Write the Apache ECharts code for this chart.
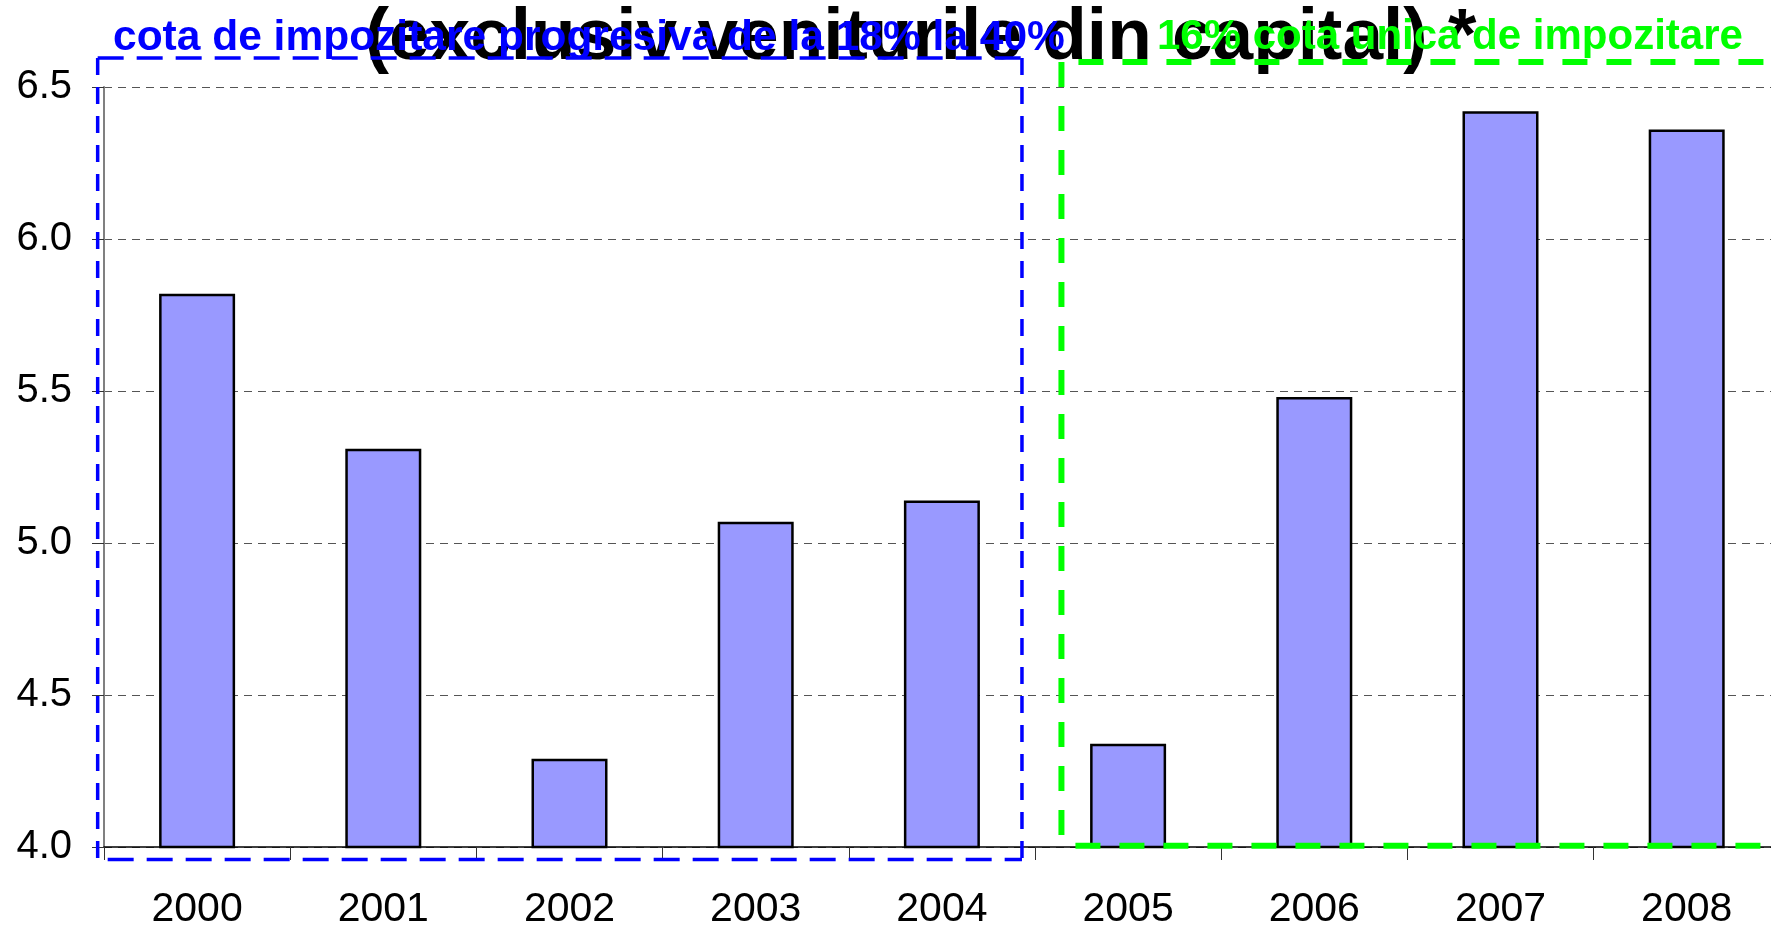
<!DOCTYPE html>
<html>
<head>
<meta charset="utf-8">
<script src="https://cdn.jsdelivr.net/npm/echarts@6/dist/echarts.min.js"></script>
<style>
html,body{margin:0;padding:0;background:#fff;}
#chart{width:1771px;height:927px;}
</style>
</head>
<body>
<div id="chart"></div>
<script>
const years = ['2000','2001','2002','2003','2004','2005','2006','2007','2008'];
const values = [5.82, 5.31, 4.29, 5.07, 5.14, 4.34, 5.48, 6.42, 6.36];
const yMin = 4.0, yMax = 6.5, yStep = 0.5;
const titleText = '(exclusiv veniturile din capital) *';
const blueText = 'cota de impozitare progresiva de la 18% la 40%';
const greenText = '16% cota unica de impozitare';

const FONT = '"Liberation Sans", Arial, sans-serif';
const chart = echarts.init(document.getElementById('chart'));

chart.setOption({
  animation: false,
  backgroundColor: '#fff',
  grid: { left: 104, width: 1675.8, top: 87, bottom: 80, containLabel: false, outerBoundsMode: 'none' },
  xAxis: {
    type: 'category',
    data: years,
    axisLine: { lineStyle: { color: '#000', width: 1.5 } },
    axisTick: { show: true, length: 13, lineStyle: { color: '#333', width: 1 } },
    axisLabel: { color: '#000', fontSize: 41, fontFamily: FONT, margin: 42 }
  },
  yAxis: {
    type: 'value',
    min: yMin, max: yMax, interval: yStep,
    axisLine: { show: true, lineStyle: { color: '#808080', width: 2 } },
    axisTick: { show: true, length: 12, lineStyle: { color: '#333', width: 1 } },
    axisLabel: { color: '#000', fontSize: 40, fontFamily: FONT, margin: 32,
      formatter: v => v.toFixed(1) },
    splitLine: { show: true, lineStyle: { color: '#555', width: 1, type: [8, 6] } }
  },
  series: [{
    type: 'bar',
    data: values,
    barWidth: 76,
    itemStyle: { color: '#9999FF', borderColor: '#000', borderWidth: 2.5 }
  }]
});

function drawOverlays() {
  const x0 = chart.convertToPixel({ xAxisIndex: 0 }, 0);
  const x1 = chart.convertToPixel({ xAxisIndex: 0 }, 1);
  const bx = i => x0 + i * (x1 - x0);
  const by = v => chart.convertToPixel({ yAxisIndex: 0 }, v);
  const blue = { stroke: '#0000FF', lineWidth: 3.5 };
  const green = { stroke: '#00FF00', lineWidth: 6 };
  const bL = bx(-0.534), bR = bx(4.43), bT = by(6.595), bB = by(3.959);
  const gL = bx(4.642), gR = bx(8.8), gT = by(6.582), gB = by(4.004);
  const line = (xa, ya, xb, yb, st, dash) => ({
    type: 'line', z: 100, silent: true,
    shape: { x1: xa, y1: ya, x2: xb, y2: yb },
    style: Object.assign({}, st, { lineDash: dash, fill: null })
  });
  chart.setOption({
    graphic: [
      { type: 'text', z: 50, silent: true, x: 920.5, y: 39,
        style: { text: titleText, font: 'bold 73px ' + FONT, fill: '#000',
          align: 'center', verticalAlign: 'middle' } },
      line(bL, bT, bR, bT, blue, [26, 13]),
      line(bL, bT, bL, bB, blue, [17, 12]),
      line(bR, bT, bR, bB, blue, [17, 12]),
      line(bL + 10, bB, bR, bB, blue, [26, 13]),
      line(gL, gT, gL, gB, green, [25, 19]),
      line(gL + 17, gT, gR, gT, green, [25, 19]),
      line(gL + 14, gB, gR, gB, green, [25, 19]),
      { type: 'text', z: 120, silent: true, x: 113, y: 38,
        style: { text: blueText, font: 'bold 42.5px ' + FONT, fill: '#0000FF',
          align: 'left', verticalAlign: 'middle' } },
      { type: 'text', z: 120, silent: true, x: 1157, y: 37.5,
        style: { text: greenText, font: 'bold 42px ' + FONT, fill: '#00FF00',
          align: 'left', verticalAlign: 'middle' } }
    ]
  });
}
drawOverlays();
</script>
</body>
</html>
